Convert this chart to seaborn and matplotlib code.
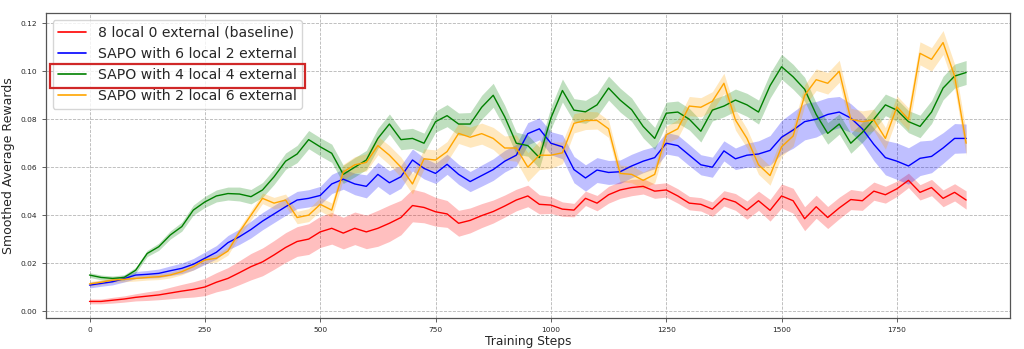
import numpy as np
import pandas as pd
import matplotlib
matplotlib.use("Agg")
import matplotlib.pyplot as plt
from matplotlib.patches import Rectangle
import seaborn as sns

# Training steps (every 25 steps from 0 to 1900)
steps = np.arange(0, 1901, 25)

labels = [
    "8 local 0 external (baseline)",
    "SAPO with 6 local 2 external",
    "SAPO with 4 local 4 external",
    "SAPO with 2 local 6 external",
]
colors = ["red", "blue", "green", "orange"]

baseline_mean = [
    0.0040, 0.0040, 0.0045, 0.0050, 0.0057, 0.0062, 0.0067, 0.0075, 0.0083, 0.0090,
    0.0100, 0.0120, 0.0136, 0.0160, 0.0185, 0.0205, 0.0234, 0.0265, 0.0290, 0.0300,
    0.0330, 0.0345, 0.0325, 0.0345, 0.0330, 0.0345, 0.0366, 0.0390, 0.0440, 0.0432,
    0.0414, 0.0405, 0.0366, 0.0378, 0.0398, 0.0415, 0.0438, 0.0463, 0.0480, 0.0445,
    0.0442, 0.0425, 0.0421, 0.0470, 0.0450, 0.0485, 0.0505, 0.0515, 0.0520, 0.0500,
    0.0505, 0.0480, 0.0450, 0.0445, 0.0425, 0.0470, 0.0455, 0.0421, 0.0460, 0.0420,
    0.0480, 0.0460, 0.0385, 0.0435, 0.0390, 0.0430, 0.0465, 0.0460, 0.0500, 0.0485,
    0.0510, 0.0545, 0.0495, 0.0515, 0.0470, 0.0495, 0.0463,
]
sapo_6_2_mean = [
    0.0108, 0.0115, 0.0122, 0.0135, 0.0150, 0.0153, 0.0157, 0.0168, 0.0178, 0.0195,
    0.0220, 0.0245, 0.0285, 0.0310, 0.0340, 0.0375, 0.0405, 0.0435, 0.0463, 0.0470,
    0.0482, 0.0530, 0.0550, 0.0530, 0.0520, 0.0570, 0.0535, 0.0560, 0.0630, 0.0595,
    0.0574, 0.0612, 0.0570, 0.0540, 0.0565, 0.0590, 0.0625, 0.0650, 0.0740, 0.0760,
    0.0700, 0.0685, 0.0590, 0.0555, 0.0588, 0.0578, 0.0581, 0.0605, 0.0625, 0.0640,
    0.0700, 0.0690, 0.0650, 0.0610, 0.0600, 0.0668, 0.0635, 0.0650, 0.0655, 0.0670,
    0.0725, 0.0755, 0.0790, 0.0800, 0.0820, 0.0830, 0.0805, 0.0760, 0.0695, 0.0640,
    0.0625, 0.0605, 0.0637, 0.0645, 0.0680, 0.0720, 0.0720,
]
sapo_4_4_mean = [
    0.0150, 0.0140, 0.0136, 0.0140, 0.0170, 0.0240, 0.0268, 0.0317, 0.0352, 0.0421,
    0.0455, 0.0480, 0.0490, 0.0488, 0.0477, 0.0505, 0.0560, 0.0625, 0.0655, 0.0715,
    0.0685, 0.0658, 0.0570, 0.0600, 0.0630, 0.0720, 0.0780, 0.0715, 0.0720, 0.0700,
    0.0790, 0.0815, 0.0780, 0.0780, 0.0850, 0.0900, 0.0810, 0.0700, 0.0690, 0.0640,
    0.0805, 0.0920, 0.0838, 0.0831, 0.0860, 0.0930, 0.0880, 0.0840, 0.0770, 0.0720,
    0.0825, 0.0830, 0.0800, 0.0750, 0.0838, 0.0855, 0.0880, 0.0860, 0.0830, 0.0940,
    0.1019, 0.0977, 0.0925, 0.0820, 0.0741, 0.0780, 0.0700, 0.0745, 0.0800, 0.0860,
    0.0838, 0.0790, 0.0770, 0.0830, 0.0930, 0.0980, 0.0995,
]
sapo_2_6_mean = [
    0.0113, 0.0120, 0.0129, 0.0132, 0.0136, 0.0140, 0.0143, 0.0150, 0.0164, 0.0185,
    0.0213, 0.0220, 0.0250, 0.0330, 0.0400, 0.0470, 0.0450, 0.0463, 0.0390, 0.0400,
    0.0445, 0.0421, 0.0580, 0.0610, 0.0620, 0.0690, 0.0650, 0.0600, 0.0530, 0.0635,
    0.0630, 0.0665, 0.0741, 0.0725, 0.0740, 0.0720, 0.0680, 0.0680, 0.0600, 0.0650,
    0.0650, 0.0660, 0.0783, 0.0795, 0.0795, 0.0760, 0.0574, 0.0570, 0.0545, 0.0570,
    0.0735, 0.0760, 0.0855, 0.0850, 0.0875, 0.0950, 0.0797, 0.0720, 0.0610, 0.0565,
    0.0685, 0.0730, 0.0900, 0.0965, 0.0950, 0.1000, 0.0800, 0.0790, 0.0797, 0.0720,
    0.0852, 0.0800, 0.1075, 0.1050, 0.1120, 0.0980, 0.0700,
]

# Half-width of the shaded spread around each mean curve
baseline_spread = [
    0.0010, 0.0010, 0.0012, 0.0013, 0.0015,
    0.0018, 0.0020, 0.0024, 0.0028, 0.0032, 0.0036,
    0.0040, 0.0045, 0.0050, 0.0055, 0.0058, 0.0060, 0.0062, 0.0062,
    0.0064, 0.0065, 0.0066, 0.0066, 0.0068, 0.0070, 0.0075, 0.0076, 0.0072, 0.0068,
    0.0064, 0.0060, 0.0056, 0.0054, 0.0052, 0.0050, 0.0048, 0.0046, 0.0045, 0.0045,
    0.0040, 0.0035, 0.0030, 0.0028, 0.0030, 0.0032, 0.0035, 0.0035, 0.0034, 0.0032,
    0.0030, 0.0030, 0.0030, 0.0028, 0.0028, 0.0030, 0.0032, 0.0035, 0.0038, 0.0040,
    0.0045, 0.0050, 0.0052, 0.0050, 0.0048, 0.0046, 0.0045, 0.0042, 0.0040, 0.0038,
    0.0035, 0.0032, 0.0030, 0.0032, 0.0034, 0.0035, 0.0036, 0.0038,
]
sapo_6_2_spread = [
    0.0012, 0.0012, 0.0013, 0.0014, 0.0015,
    0.0016, 0.0018, 0.0020, 0.0022, 0.0024, 0.0026,
    0.0028, 0.0030, 0.0032, 0.0035, 0.0036, 0.0036, 0.0036, 0.0036,
    0.0036, 0.0038, 0.0040, 0.0042, 0.0045, 0.0048, 0.0050, 0.0050, 0.0048, 0.0046,
    0.0044, 0.0042, 0.0042, 0.0042, 0.0042, 0.0044, 0.0045, 0.0045, 0.0045, 0.0046,
    0.0046, 0.0048, 0.0050, 0.0055, 0.0055, 0.0052, 0.0050, 0.0049, 0.0049, 0.0048,
    0.0046, 0.0045, 0.0044, 0.0044, 0.0042, 0.0042, 0.0042, 0.0045, 0.0050, 0.0055,
    0.0062, 0.0070, 0.0076, 0.0076, 0.0074, 0.0070, 0.0065, 0.0060, 0.0062, 0.0068,
    0.0072, 0.0076, 0.0076, 0.0072, 0.0068, 0.0064, 0.0062, 0.0060,
]
sapo_4_4_spread = [
    0.0010, 0.0010, 0.0010, 0.0011, 0.0012,
    0.0013, 0.0015, 0.0017, 0.0019, 0.0021, 0.0023,
    0.0025, 0.0027, 0.0029, 0.0030, 0.0031, 0.0032, 0.0034, 0.0036,
    0.0038, 0.0038, 0.0038, 0.0038, 0.0040, 0.0040, 0.0042, 0.0042, 0.0042, 0.0042,
    0.0042, 0.0044, 0.0046, 0.0046, 0.0048, 0.0050, 0.0050, 0.0048, 0.0046, 0.0044,
    0.0044, 0.0046, 0.0048, 0.0048, 0.0048, 0.0048, 0.0050, 0.0050, 0.0049, 0.0048,
    0.0046, 0.0046, 0.0046, 0.0045, 0.0045, 0.0045, 0.0045, 0.0046, 0.0048, 0.0050,
    0.0052, 0.0052, 0.0052, 0.0050, 0.0048, 0.0045, 0.0042, 0.0042, 0.0042, 0.0044,
    0.0045, 0.0046, 0.0046, 0.0047, 0.0048, 0.0049, 0.0050, 0.0050,
]
sapo_2_6_spread = [
    0.0010, 0.0010, 0.0010, 0.0010, 0.0011,
    0.0011, 0.0012, 0.0012, 0.0013, 0.0014, 0.0015,
    0.0016, 0.0017, 0.0018, 0.0020, 0.0022, 0.0024, 0.0025, 0.0026,
    0.0027, 0.0028, 0.0030, 0.0032, 0.0034, 0.0036, 0.0038, 0.0040, 0.0042, 0.0042,
    0.0042, 0.0042, 0.0042, 0.0042, 0.0042, 0.0044, 0.0046, 0.0050, 0.0055, 0.0060,
    0.0060, 0.0055, 0.0045, 0.0040, 0.0038, 0.0036, 0.0036, 0.0035, 0.0035, 0.0035,
    0.0035, 0.0036, 0.0038, 0.0040, 0.0040, 0.0040, 0.0042, 0.0042, 0.0040, 0.0040,
    0.0040, 0.0040, 0.0042, 0.0044, 0.0045, 0.0045, 0.0046, 0.0046, 0.0045, 0.0045,
    0.0045, 0.0046, 0.0047, 0.0048, 0.0049, 0.0050, 0.0050, 0.0050,
]

x_ticks = [0, 250, 500, 750, 1000, 1250, 1500, 1750]
y_ticks = [0.00, 0.02, 0.04, 0.06, 0.08, 0.10, 0.12]

means = [baseline_mean, sapo_6_2_mean, sapo_4_4_mean, sapo_2_6_mean]
spreads = [baseline_spread, sapo_6_2_spread, sapo_4_4_spread, sapo_2_6_spread]

frames = []
for lab, m, s in zip(labels, means, spreads):
    frames.append(pd.DataFrame({"step": steps, "reward": m, "spread": s, "run": lab}))
df = pd.concat(frames, ignore_index=True)

sns.set_theme(style="ticks")
plt.rcParams["font.family"] = ["DejaVu Sans"]

fig = plt.figure(figsize=(10.24, 3.49), dpi=100)
ax = fig.add_axes([0.0446, 0.0880, 0.9417, 0.8739])

for lab, col in zip(labels, colors):
    sub = df[df["run"] == lab]
    ax.fill_between(sub["step"], sub["reward"] - sub["spread"], sub["reward"] + sub["spread"],
                    color=col, alpha=0.25, linewidth=0)
    sns.lineplot(x=sub["step"], y=sub["reward"], color=col, linewidth=1.0,
                 label=lab, ax=ax)

ax.set_xlim(-95, 1995)
ax.set_ylim(-0.00304, 0.1242)
ax.set_xticks(x_ticks)
ax.set_yticks(y_ticks)
ax.set_yticklabels([f"{v:.2f}" for v in y_ticks])
ax.tick_params(labelsize=5.4, length=3, width=0.6, color="#444444", pad=3)
ax.grid(True, linestyle="--", linewidth=0.6, color="#b5b5b5")
for sp in ax.spines.values():
    sp.set_color("#555555")
    sp.set_linewidth(0.9)

ax.set_xlabel("Training Steps", fontsize=8.8, labelpad=2)
ax.set_ylabel("Smoothed Average Rewards", fontsize=9, labelpad=4)

leg = ax.legend(loc="upper left", fontsize=10.1, labelspacing=0.5, frameon=True,
                framealpha=0.8, edgecolor="#cccccc", fancybox=True)
for line in leg.get_lines():
    line.set_linewidth(1.2)

# Highlight box around the third legend entry
fig.canvas.draw()
renderer = fig.canvas.get_renderer()
frame_bb = leg.get_frame().get_window_extent(renderer)
text_bb = leg.get_texts()[2].get_window_extent(renderer)
W, H = fig.get_size_inches() * fig.dpi
yc = (text_bb.y0 + text_bb.y1) / 2 - 1
x0 = frame_bb.x0 - 3
x1 = frame_bb.x1 + 3
y0 = yc - 12
y1 = yc + 12
fig.add_artist(Rectangle((x0 / W, y0 / H), (x1 - x0) / W, (y1 - y0) / H,
                         transform=fig.transFigure, fill=False,
                         edgecolor="#d02828", linewidth=1.6, zorder=10))

fig.savefig("out.png", dpi=100, facecolor="white")
